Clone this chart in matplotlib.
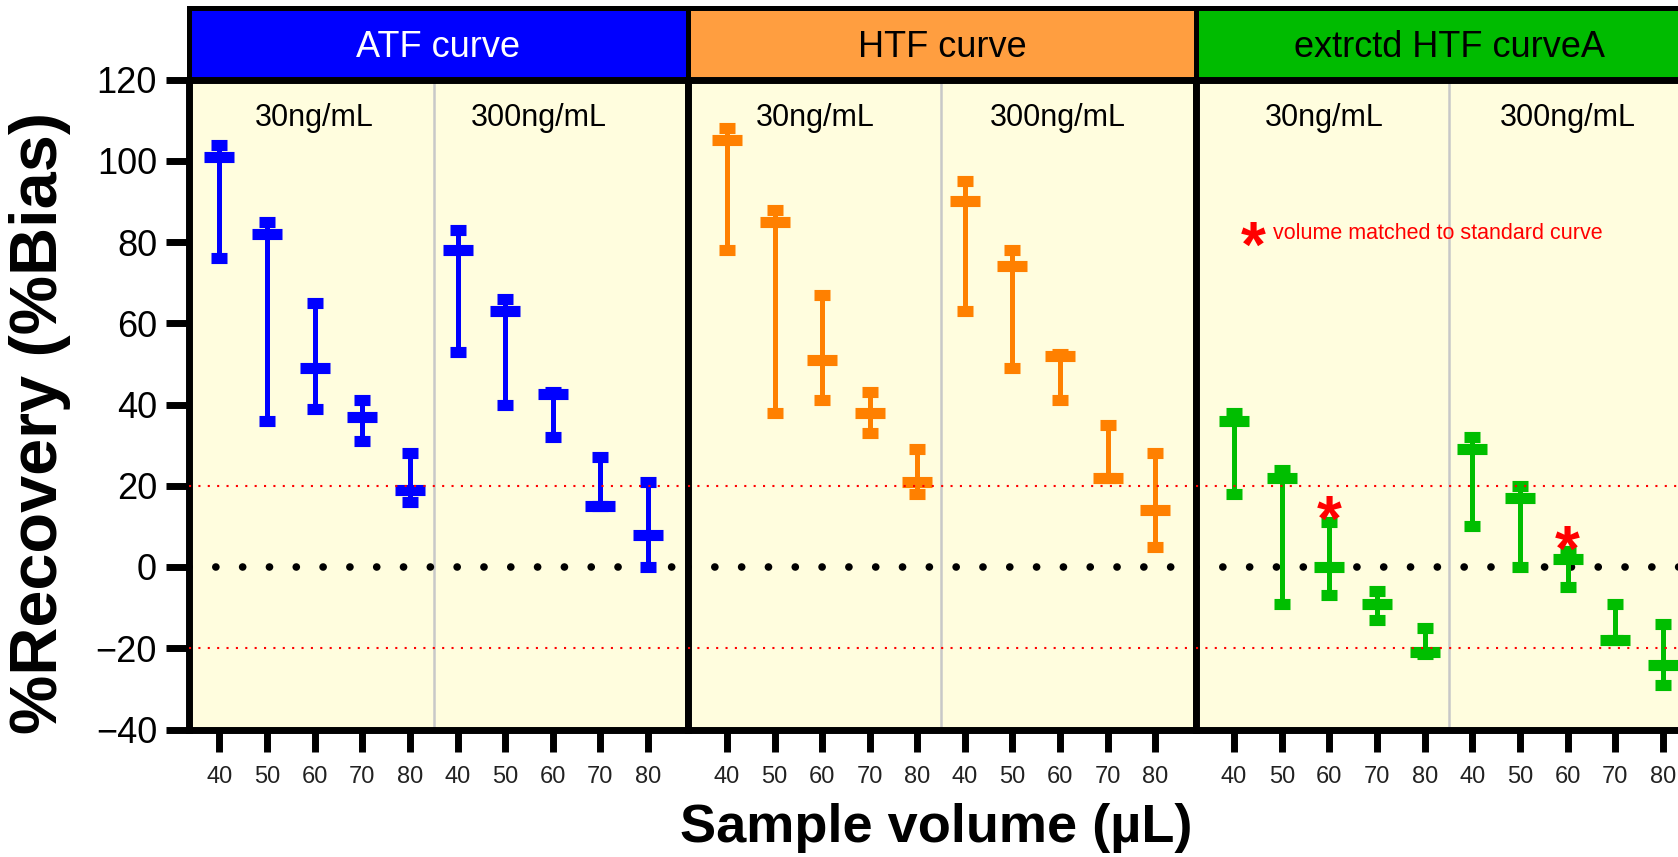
import matplotlib.pyplot as plt
from matplotlib import font_manager

# fonts: Arial-like, with a narrow face for the small labels if present
names = {f.name for f in font_manager.fontManager.ttflist}
has_narrow = 'Liberation Sans Narrow' in names
narrow = 'Liberation Sans Narrow' if has_narrow else 'Liberation Sans'
plt.rcParams['font.family'] = ['Liberation Sans', 'DejaVu Sans']

# data (mean, lower end, upper end), 30ng/mL then 300ng/mL
volumes = [40, 50, 60, 70, 80]
levels = ['30ng/mL', '300ng/mL']
titles = ['ATF curve', 'HTF curve', 'extrctd HTF curveA']

atf_mean = [101, 82, 49, 37, 19, 78, 63, 42.5, 15, 8]
atf_low = [76, 36, 39, 31, 16, 53, 40, 32, 15, 0]
atf_high = [104, 85, 65, 41, 28, 83, 66, 43, 27, 21]

htf_mean = [105, 85, 51, 38, 21, 90, 74, 52, 22, 14]
htf_low = [78, 38, 41, 33, 18, 63, 49, 41, 22, 5]
htf_high = [108, 88, 67, 43, 29, 95, 78, 52.5, 35, 28]

ext_mean = [36, 22, 0, -9, -21, 29, 17, 2, -18, -24]
ext_low = [18, -9, -7, -13, -21.5, 10, 0, -5, -18, -29]
ext_high = [38, 24, 11, -6, -15, 32, 20, 4, -9, -14]

# points marked "volume matched to standard curve" (x index, y of the star)
matched_x = [2, 7]
matched_y = [15.5, 8]

series = [(atf_mean, atf_low, atf_high), (htf_mean, htf_low, htf_high),
          (ext_mean, ext_low, ext_high)]
data_colors = ['#0000FF', '#FF8000', '#00BE00']
head_colors = ['#0000FF', '#FF9E40', '#00BB00']
head_text = ['white', 'black', 'black']

W, H = 1678, 857
fig = plt.figure(figsize=(W / 100, H / 100), dpi=100)

panel_px = [(189, 688), (688, 1196), (1196, 1704)]
xlims = [(-0.64, 9.84), (-0.82, 9.86), (-0.8, 9.86)]
level_x = [(2.0, 6.7), (1.85, 6.95), (1.9, 7.0)]
plot_top, plot_bot, head_top = 79.5, 729.5, 7.5

star_size = 46


def star(ax, x, yc, color='red'):
    # centre the asterisk ink on (x, yc)
    ax.annotate('*', xy=(x, yc), xytext=(0, -0.575 * star_size), textcoords='offset points',
                ha='center', va='baseline', fontsize=star_size, fontweight='bold',
                color=color, zorder=6, annotation_clip=False)


for i, (mean, low, high) in enumerate(series):
    l, r = panel_px[i]
    hax = fig.add_axes([l / W, 1 - plot_top / H, (r - l) / W, (plot_top - head_top) / H])
    hax.set_facecolor(head_colors[i])
    hax.set_xticks([])
    hax.set_yticks([])
    for sp in hax.spines.values():
        sp.set_linewidth(3.6)
    hax.text(0.5, 0.3125, titles[i], ha='center', va='baseline', fontsize=26,
             color=head_text[i], transform=hax.transAxes)

    ax = fig.add_axes([l / W, 1 - plot_bot / H, (r - l) / W, (plot_bot - plot_top) / H])
    ax.set_facecolor('#FFFDDE')
    x = list(range(10))
    yerr = [[m - lo for m, lo in zip(mean, low)], [h - m for m, h in zip(mean, high)]]
    ax.errorbar(x, mean, yerr=yerr, fmt='_', color=data_colors[i], ms=22, mew=8,
                elinewidth=3.6, capsize=5.8, capthick=3.6, zorder=3)

    ax.axvline(4.5, color='#C8C8C8', lw=1.8, zorder=1)
    ax.axhline(0, color='black', lw=5.5, linestyle=(0, (0.01, 3.5)), dash_capstyle='round',
               zorder=2)
    for yl in (20, -20):
        ax.axhline(yl, color='red', lw=1.5, linestyle=(0, (1, 3.5)), zorder=4)

    for lx, lab in zip(level_x[i], levels):
        ax.text(lx, 108.5, lab, ha='center', va='baseline', fontsize=22, zorder=5)

    ax.set_xlim(*xlims[i])
    ax.set_ylim(-40, 120)
    for sp in ax.spines.values():
        sp.set_linewidth(5)
        sp.set_capstyle('projecting')
    ax.set_xticks(x)
    ax.set_xticklabels([str(v) for v in volumes * 2], fontfamily=narrow,
                       fontsize=20 if has_narrow else 17, color='#222222')
    ax.tick_params(axis='x', direction='out', length=16, width=5, pad=10)
    if i == 0:
        ax.set_yticks(range(-40, 121, 20))
        ax.tick_params(axis='y', direction='out', length=16.5, width=5, pad=6.5, labelsize=26)
    else:
        ax.set_yticks([])

    if i == 2:
        for mx, my in zip(matched_x, matched_y):
            star(ax, mx, my)
        star(ax, 0.4, 83)
        ax.text(0.82, 80.7, 'volume matched to standard curve', ha='left', va='baseline',
                fontsize=19 if has_narrow else 15.5, fontfamily=narrow, color='red', zorder=6)

fig.text(936.5 / W, 1 - 842 / H, 'Sample volume (\u00b5L)', ha='center', va='baseline',
         fontsize=39, fontweight='bold')
fig.text(40 / W, 1 - 423 / H, '%Recovery (%Bias)', ha='center', va='center', rotation=90,
         fontsize=48, fontweight='bold')

fig.savefig('out.png', dpi=100)
